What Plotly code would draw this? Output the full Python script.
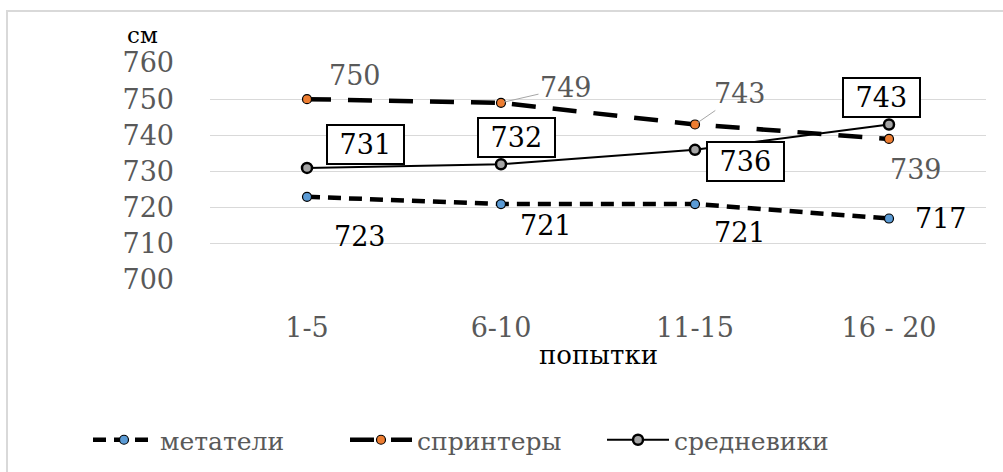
import plotly.graph_objects as go

# attempt groups (x axis)
attempts = ["1-5", "6-10", "11-15", "16 - 20"]

# mean jump results, cm
throwers = [723, 721, 721, 717]      # метатели
sprinters = [750, 749, 743, 739]     # спринтеры
middle = [731, 732, 736, 743]        # средневики

y_ticks = [700, 710, 720, 730, 740, 750, 760]

FONT = "DejaVu Serif"
GRAY_TXT = "#595959"
LBL = 27

W, H = 1003, 472
L, R, T, B = 210, 17, 63, 192
pw, ph = W - L - R, H - T - B

fig = go.Figure()

fig.add_trace(go.Scatter(
    x=attempts, y=throwers, name="метатели", mode="lines+markers",
    line=dict(color="black", width=4.5, dash="13px,8px"),
    marker=dict(color="#5B9BD5", size=9, line=dict(color="black", width=1.2)),
))
fig.add_trace(go.Scatter(
    x=attempts, y=sprinters, name="спринтеры", mode="lines+markers",
    line=dict(color="black", width=4.5, dash="24px,17px"),
    marker=dict(color="#ED7D31", size=9, line=dict(color="black", width=1.2)),
))
fig.add_trace(go.Scatter(
    x=attempts, y=middle, name="средневики", mode="lines+markers",
    line=dict(color="black", width=2),
    marker=dict(color="#A5A5A5", size=10, line=dict(color="black", width=2.5)),
))

annotations = []

# метатели: plain black labels, below / right of the points
thr_off = [(53, -40), (45, -21), (45, -28), (52, 0)]
for cat, v, (dx, dy) in zip(attempts, throwers, thr_off):
    annotations.append(dict(x=cat, y=v, text=str(v), showarrow=False,
                            xshift=dx, yshift=dy,
                            font=dict(family=FONT, size=LBL, color="black")))

# спринтеры: gray labels, two of them with leader lines
spr_off = [(48, 24, False), (65, 15, True), (45, 31, True), (27, -31, False)]
for cat, v, (dx, dy, leader) in zip(attempts, sprinters, spr_off):
    if leader:
        annotations.append(dict(x=cat, y=v, text=str(v), showarrow=True,
                                arrowhead=0, arrowwidth=1, arrowcolor="#A6A6A6",
                                ax=dx, ay=-dy, standoff=3,
                                font=dict(family=FONT, size=LBL, color=GRAY_TXT)))
    else:
        annotations.append(dict(x=cat, y=v, text=str(v), showarrow=False,
                                xshift=dx, yshift=dy,
                                font=dict(family=FONT, size=LBL, color=GRAY_TXT)))

# средневики: boxed labels
mid_off = [(58, 23), (15, 27), (50, -12), (-8, 27)]
for cat, v, (dx, dy) in zip(attempts, middle, mid_off):
    annotations.append(dict(x=cat, y=v, text="\u00a0" + str(v) + "\u00a0",
                            showarrow=False, xshift=dx, yshift=dy,
                            bgcolor="white", bordercolor="black",
                            borderwidth=2, borderpad=3,
                            font=dict(family=FONT, size=LBL, color="black")))

# axis captions
annotations.append(dict(xref="paper", yref="paper", x=(142 - L) / pw,
                        y=(H - B - 35) / ph, xanchor="center", yanchor="middle",
                        text="см", showarrow=False,
                        font=dict(family=FONT, size=23, color="black")))
annotations.append(dict(xref="paper", yref="paper", x=0.5,
                        y=(H - B - 355) / ph, xanchor="center", yanchor="middle",
                        text="попытки", showarrow=False,
                        font=dict(family=FONT, size=26, color="black")))

# outer chart frame
shapes = [dict(type="rect", xref="paper", yref="paper",
               x0=(7 - L) / pw, x1=(1010 - L) / pw,
               y0=(H - B - 480) / ph, y1=(H - B - 11) / ph,
               line=dict(color="#D9D9D9", width=2), fillcolor="rgba(0,0,0,0)")]

fig.update_layout(
    width=W, height=H,
    margin=dict(l=L, r=R, t=T, b=B),
    paper_bgcolor="white", plot_bgcolor="white",
    showlegend=True,
    legend=dict(orientation="h", xref="container", x=88 / W, xanchor="left",
                yref="container", y=(H - 440) / H, yanchor="middle",
                font=dict(family=FONT, size=25, color=GRAY_TXT),
                itemwidth=62, entrywidth=180, tracegroupgap=0),
    annotations=annotations,
    shapes=shapes,
    xaxis=dict(type="category", range=[-0.5, 3.5], showgrid=False,
               showline=False, zeroline=False, ticks="",
               tickfont=dict(family=FONT, size=LBL, color=GRAY_TXT),
               ticklabelstandoff=29),
    yaxis=dict(range=[700, 760], tickvals=y_ticks, showgrid=True,
               gridcolor="#D9D9D9", gridwidth=1, zeroline=False,
               showline=False, ticks="",
               tickfont=dict(family=FONT, size=LBL, color=GRAY_TXT),
               ticklabelstandoff=35),
)

fig.write_html("out.html")
